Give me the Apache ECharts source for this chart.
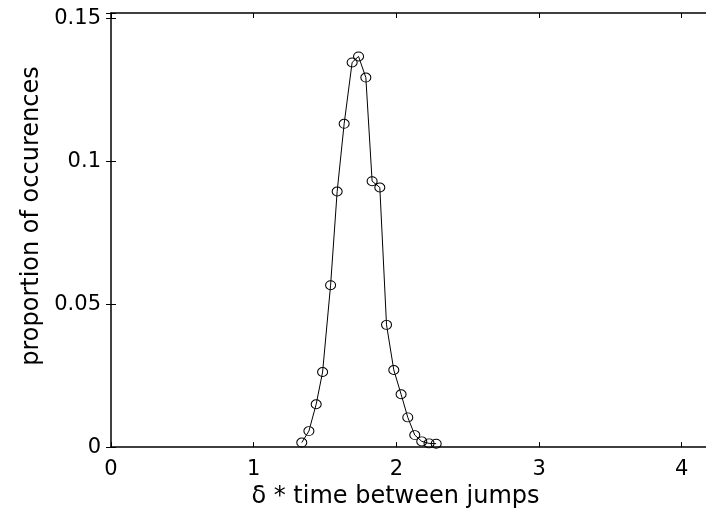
<!DOCTYPE html>
<html>
<head>
<meta charset="utf-8">
<script src="https://cdn.jsdelivr.net/npm/echarts@6/dist/echarts.min.js"></script>
<style>
html,body{margin:0;padding:0;background:#fff;}
#chart{width:706px;height:514px;}
</style>
</head>
<body>
<div id="chart"></div>
<script>
// data
var xValues = [1.337, 1.387, 1.438, 1.483, 1.539, 1.585, 1.634, 1.690, 1.735, 1.786,
               1.830, 1.884, 1.931, 1.982, 2.033, 2.080, 2.129, 2.178, 2.229, 2.279];
var yValues = [0.0016, 0.0056, 0.0150, 0.0263, 0.0567, 0.0895, 0.1132, 0.1347, 0.1368, 0.1294,
               0.0931, 0.0909, 0.0428, 0.0270, 0.0185, 0.0104, 0.0042, 0.0020, 0.0013, 0.0012];
var xTicks = [0, 1, 2, 3, 4];
var yTicks = [0, 0.05, 0.1, 0.15];
var xName = 'δ * time between jumps';
var yName = 'proportion of occurences';

var points = xValues.map(function (x, i) { return [x, yValues[i]]; });

var FONT = 'DejaVu Sans';
var lineStyle = { color: '#000', width: 1.5 };
var tickStyle = { show: true, inside: true, length: 5, lineStyle: { color: '#000', width: 1 } };

function fmtY(v) {
  var r = Math.round(v * 1000) / 1000;
  return yTicks.some(function (t) { return Math.abs(t - r) < 1e-9; }) ? String(r) : '';
}
function fmtX(v) {
  var r = Math.round(v * 1000) / 1000;
  return xTicks.indexOf(r) >= 0 ? String(r) : '';
}

var chart = echarts.init(document.getElementById('chart'));
chart.setOption({
  animation: false,
  backgroundColor: '#fff',
  grid: { left: 111, right: 0, top: 13, bottom: 66, containLabel: false },
  xAxis: [{
    type: 'value', position: 'bottom', min: 0, max: 4.17, interval: 1,
    axisLine: { show: true, onZero: false, lineStyle: lineStyle },
    axisTick: tickStyle,
    splitLine: { show: false },
    axisLabel: { show: true, showMaxLabel: false, margin: 12, color: '#000', fontFamily: FONT, fontSize: 21, formatter: fmtX },
    name: xName, nameLocation: 'middle', nameGap: 37,
    nameTextStyle: { color: '#000', fontFamily: FONT, fontSize: 24, padding: [0, 26, 0, 0] }
  }, {
    type: 'value', position: 'top', min: 0, max: 4.17, interval: 1,
    axisLine: { show: true, onZero: false, lineStyle: lineStyle },
    axisTick: tickStyle,
    splitLine: { show: false },
    axisLabel: { show: false }
  }],
  yAxis: [{
    type: 'value', position: 'left', min: 0, max: 0.152, interval: 0.05,
    axisLine: { show: true, onZero: false, lineStyle: lineStyle },
    axisTick: tickStyle,
    splitLine: { show: false },
    axisLabel: { show: true, showMaxLabel: true, margin: 10, color: '#000', fontFamily: FONT, fontSize: 21, formatter: fmtY },
    name: yName, nameLocation: 'middle', nameGap: 64,
    nameTextStyle: { color: '#000', fontFamily: FONT, fontSize: 24, padding: [0, 0, 0, 28] }
  }, {
    type: 'value', position: 'right', min: 0, max: 0.152, interval: 0.05,
    axisLine: { show: false },
    axisTick: tickStyle,
    splitLine: { show: false },
    axisLabel: { show: false }
  }],
  series: [{
    type: 'line',
    xAxisIndex: 0, yAxisIndex: 0,
    data: points,
    symbol: 'circle',
    symbolSize: [10, 9],
    showAllSymbol: true,
    lineStyle: { color: '#000', width: 1 },
    itemStyle: { color: 'rgba(0,0,0,0)', borderColor: '#000', borderWidth: 1 },
    emphasis: { disabled: true },
    z: 3
  }]
});
</script>
</body>
</html>
